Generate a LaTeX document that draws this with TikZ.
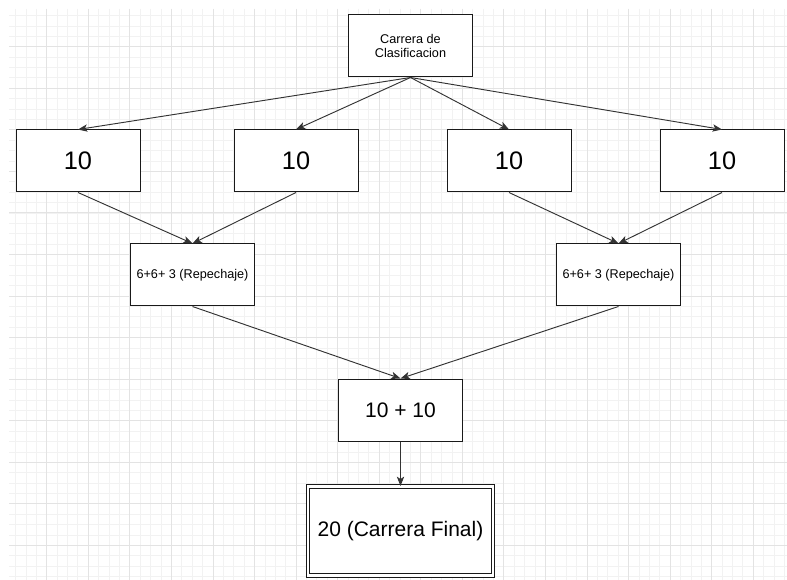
\documentclass[tikz,border=0pt]{standalone}
\usepackage{fontspec}
\setmainfont{Liberation Sans}
\usetikzlibrary{arrows.meta,positioning}

\begin{document}
\begin{tikzpicture}[x=0.75pt,y=-0.75pt,
  box/.style={draw=black!90,fill=white,line width=0.75pt,minimum width=93pt,minimum height=46.5pt,inner sep=0pt,align=center},
  small/.style={font=\fontsize{9.5}{11}\selectfont},
  big/.style={font=\fontsize{19}{22}\selectfont},
  mid/.style={font=\fontsize{15.75}{18}\selectfont},
  final/.style={box,double,double distance=1.8pt,line width=0.8pt,minimum width=138.75pt,minimum height=66.75pt},
  arr/.style={draw=black!80,line width=0.7pt,-{Stealth[length=7pt,width=5.5pt,inset=1.8pt]}}]
\useasboundingbox (0,0) rectangle (787,580);
\fill[white] (0,0) rectangle (787,580);
\begin{scope}
  \clip (9,9) rectangle (787,580);
  \foreach \k in {0,...,75}
    \draw[black!5,line width=0.5pt] ({5.1+10.39*\k},9) -- ({5.1+10.39*\k},580);
  \foreach \k in {0,...,55}
    \draw[black!5,line width=0.5pt] (9,{5.1+10.39*\k}) -- (787,{5.1+10.39*\k});
  \foreach \k in {0,...,18}
    \draw[black!11,line width=0.6pt] ({5.1+41.56*\k},9) -- ({5.1+41.56*\k},580);
  \foreach \k in {0,...,13}
    \draw[black!11,line width=0.6pt] (9,{5.1+41.56*\k}) -- (787,{5.1+41.56*\k});
\end{scope}

\node[box,small] (clasif) at (410.5,46) {Carrera de\\Clasificacion};
\node[box,big] (g1) at (78,161) {10};
\node[box,big] (g2) at (296,161) {10};
\node[box,big] (g3) at (509,161) {10};
\node[box,big] (g4) at (722,161) {10};
\node[box,small] (rep1) at (192.5,275) {6+6+ 3 (Repechaje)};
\node[box,small] (rep2) at (618.5,275) {6+6+ 3 (Repechaje)};
\node[box,mid] (semi) at (400.5,410) {10 + 10};
\node[final,mid] (fin) [below=90.75pt of semi.center,anchor=center] {20 (Carrera Final)};

\draw[arr] (clasif.south) -- (g1.north);
\draw[arr] (clasif.south) -- (g2.north);
\draw[arr] (clasif.south) -- (g3.north);
\draw[arr] (clasif.south) -- (g4.north);
\draw[arr] (g1.south) -- (rep1.north);
\draw[arr] (g2.south) -- (rep1.north);
\draw[arr] (g3.south) -- (rep2.north);
\draw[arr] (g4.south) -- (rep2.north);
\draw[arr] (rep1.south) -- (semi.north);
\draw[arr] (rep2.south) -- (semi.north);
\draw[arr] (semi.south) -- (fin.north);
\end{tikzpicture}
\end{document}
